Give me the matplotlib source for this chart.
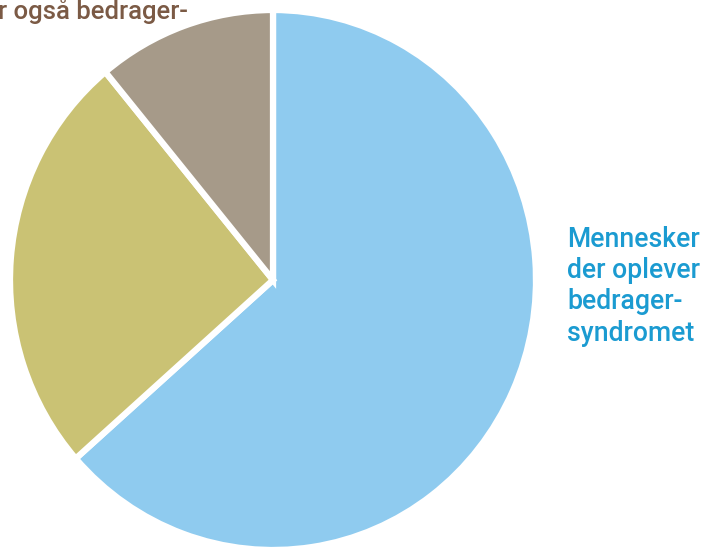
import matplotlib.pyplot as plt

# data (shares in percent)
labels = ['Mennesker der oplever bedrager-syndromet', 'Gul gruppe', 'Brun gruppe']
shares = [63.5, 25.5, 11]
colors = ['#8fcbef', '#cac274', '#a69a89']

right_label = 'Mennesker\nder oplever\nbedrager-\nsyndromet'
top_label = 'r også bedrager-'

W, H = 707, 548
fig = plt.figure(figsize=(W / 100, H / 100), dpi=100)

# pie centre and radii in pixels (slightly taller than wide, as in the print)
cx, cy, rx, ry = 273, 268, 263, 270
ax = fig.add_axes([(cx - rx) / W, (cy - ry) / H, 2 * rx / W, 2 * ry / H])
ax.pie(shares, colors=colors, startangle=90, counterclock=False,
       wedgeprops=dict(edgecolor='white', linewidth=4.5))
ax.set_xlim(-1, 1)
ax.set_ylim(-1, 1)
ax.set_aspect('auto')
ax.axis('off')

fig.text(567 / W, 1 - 226 / H, right_label, color='#1b9bd1', fontsize=19.2,
         family=['Roboto', 'DejaVu Sans'], fontweight='medium',
         va='top', ha='left', linespacing=1.2)
fig.text(-2 / W, 1 - 19 / H, top_label, color='#7b5a45', fontsize=18.5,
         family=['Roboto', 'DejaVu Sans'], fontweight='medium',
         va='baseline', ha='left')

fig.savefig('out.png', dpi=100)
